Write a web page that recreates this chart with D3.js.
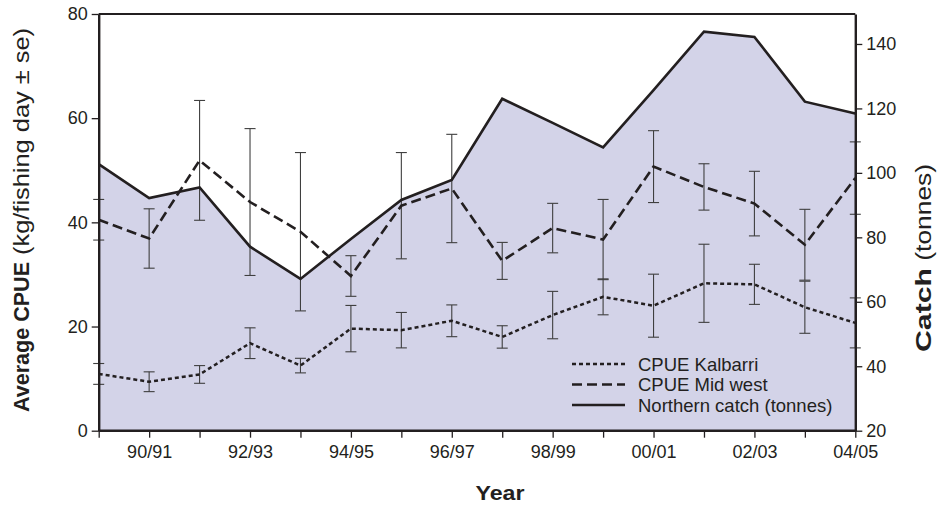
<!DOCTYPE html>
<html>
<head>
<meta charset="utf-8">
<script src="https://cdn.jsdelivr.net/npm/d3@7"></script>
<style>
  html, body { margin: 0; padding: 0; background: #fff; }
  svg { display: block; font-family: "Liberation Sans", Arial, Helvetica, sans-serif; }
</style>
</head>
<body>
<svg id="chart" width="938" height="506"></svg>
<script>
// Fishing seasons
const seasons = ["89/90","90/91","91/92","92/93","93/94","94/95","95/96","96/97",
                 "97/98","98/99","99/00","00/01","01/02","02/03","03/04","04/05"];
const seasonLabels = ["90/91","92/93","94/95","96/97","98/99","00/01","02/03","04/05"];

// Northern catch (tonnes), right axis
const northernCatch = [102.7, 92.2, 95.5, 77.1, 67.1, 79.5, 91.6, 97.8,
                       123.0, 115.5, 107.9, 125.7, 143.8, 142.2, 122.1, 118.4];

// CPUE Mid west (kg/fishing day) and standard error
const cpueMidWest   = [40.5, 36.9, 51.9, 43.9, 38.2, 29.7, 43.2, 46.5,
                       32.6, 38.9, 36.7, 50.7, 46.8, 43.6, 35.7, 48.5];
const seMidWest     = [3.9, 5.7, 11.5, 14.1, 15.2, 3.9, 10.2, 10.4,
                       3.55, 4.75, 7.7, 6.9, 4.45, 6.2, 6.8, 6.95];

// CPUE Kalbarri (kg/fishing day) and standard error
const cpueKalbarri  = [10.9, 9.4, 10.8, 16.8, 12.5, 19.6, 19.3, 21.1,
                       18.0, 22.2, 25.7, 24.0, 28.3, 28.1, 23.7, 20.7];
const seKalbarri    = [2.0, 1.9, 1.7, 2.95, 1.4, 4.45, 3.4, 3.05,
                       2.15, 4.55, 3.45, 6.05, 7.5, 3.85, 5.0, 4.8];

const leftTicks  = [0, 20, 40, 60, 80];
const rightTicks = [20, 40, 60, 80, 100, 120, 140];

const ink = "#231f20";
const fillColor = "#d3d3e8";

const svg = d3.select("#chart");
const plot = { left: 98.7, right: 855.3, top: 14, bottom: 430.7 };

const x = d3.scalePoint().domain(seasons).range([plot.left, plot.right]);
const yL = d3.scaleLinear().domain([0, 80]).range([plot.bottom, plot.top]);
const yR = d3.scaleLinear().domain([20, 149.3]).range([plot.bottom, plot.top]);

// Stretch a text element to a given run length
function fitLength(sel, len) {
  sel.attr("textLength", len).attr("lengthAdjust", "spacingAndGlyphs");
}

// Catch area (filled down to the base of the right axis)
const catchArea = d3.area()
  .x((d, i) => x(seasons[i]))
  .y0(yR(20))
  .y1(d => yR(d));
svg.append("path")
  .datum(northernCatch)
  .attr("d", catchArea)
  .attr("fill", fillColor);

// Error bars
function errorBars(values, se) {
  const g = svg.append("g")
    .attr("stroke", "#3f3f3f")
    .attr("stroke-width", 1.1)
    .attr("fill", "none");
  const capHalf = 5.5;
  values.forEach((v, i) => {
    const cx = x(seasons[i]);
    const hi = yL(v + se[i]), lo = yL(v - se[i]);
    g.append("line").attr("x1", cx).attr("x2", cx).attr("y1", hi).attr("y2", lo);
    g.append("line").attr("x1", cx - capHalf).attr("x2", cx + capHalf).attr("y1", hi).attr("y2", hi);
    g.append("line").attr("x1", cx - capHalf).attr("x2", cx + capHalf).attr("y1", lo).attr("y2", lo);
  });
}
errorBars(cpueMidWest, seMidWest);
errorBars(cpueKalbarri, seKalbarri);

// Series lines
const lineL = d3.line().x((d, i) => x(seasons[i])).y(d => yL(d));
const lineR = d3.line().x((d, i) => x(seasons[i])).y(d => yR(d));

svg.append("path").datum(northernCatch).attr("d", lineR)
  .attr("fill", "none").attr("stroke", ink).attr("stroke-width", 2.6)
  .attr("stroke-linejoin", "miter");
svg.append("path").datum(cpueMidWest).attr("d", lineL)
  .attr("fill", "none").attr("stroke", ink).attr("stroke-width", 2.6)
  .attr("stroke-dasharray", "10,5");
svg.append("path").datum(cpueKalbarri).attr("d", lineL)
  .attr("fill", "none").attr("stroke", ink).attr("stroke-width", 2.5)
  .attr("stroke-dasharray", "4,3");

// Frame: top border
svg.append("line")
  .attr("x1", plot.left).attr("x2", plot.right)
  .attr("y1", plot.top).attr("y2", plot.top)
  .attr("stroke", ink).attr("stroke-width", 2);

// Axes
function styleAxis(g) {
  g.selectAll(".domain").attr("stroke", ink).attr("stroke-width", 2.4);
  g.selectAll(".tick line").attr("stroke", ink).attr("stroke-width", 1.3);
  g.selectAll(".tick text").attr("fill", ink)
    .attr("font-size", 18).attr("font-family", "Liberation Sans, Arial, sans-serif");
}

const axL = svg.append("g")
  .attr("transform", `translate(${plot.left},0)`)
  .call(d3.axisLeft(yL).tickValues(leftTicks).tickSize(7).tickPadding(4).tickSizeOuter(0));
styleAxis(axL);

const axR = svg.append("g")
  .attr("transform", `translate(${plot.right},0)`)
  .call(d3.axisRight(yR).tickValues(rightTicks).tickSize(7).tickPadding(4).tickSizeOuter(0));
styleAxis(axR);

const axB = svg.append("g")
  .attr("transform", `translate(0,${plot.bottom})`)
  .call(d3.axisBottom(x).tickSize(7).tickPadding(8).tickSizeOuter(0)
    .tickFormat(d => seasonLabels.includes(d) ? d : ""));
styleAxis(axB);
axB.select(".domain").attr("d", `M${plot.left},0H${plot.right}`);

// Axis titles
svg.append("text")
  .attr("x", 500).attr("y", 500)
  .attr("text-anchor", "middle")
  .attr("font-size", 21).attr("font-weight", "bold").attr("fill", ink)
  .text("Year")
  .call(fitLength, 49);

const leftTitle = svg.append("text")
  .attr("transform", "translate(29,220) rotate(-90)")
  .attr("text-anchor", "middle")
  .attr("font-size", 22).attr("fill", ink);
leftTitle.append("tspan").attr("font-weight", "bold").text("Average CPUE")
  .call(fitLength, 150);
leftTitle.append("tspan").text(" (kg/fishing day \u00b1 se)")
  .call(fitLength, 234);

const rightTitle = svg.append("text")
  .attr("transform", "translate(931,258) rotate(-90)")
  .attr("text-anchor", "middle")
  .attr("font-size", 22).attr("fill", ink);
rightTitle.append("tspan").attr("font-weight", "bold").text("Catch")
  .call(fitLength, 84);
rightTitle.append("tspan").text(" (tonnes)")
  .call(fitLength, 104);

// Legend
const legendItems = [
  { label: "CPUE Kalbarri", dash: "4,3" },
  { label: "CPUE Mid west", dash: "10,5" },
  { label: "Northern catch (tonnes)", dash: null }
];
const legend = svg.append("g").attr("transform", "translate(572,364)");
legendItems.forEach((d, i) => {
  const row = legend.append("g").attr("transform", `translate(0,${i * 20.5})`);
  row.append("line").attr("x1", 0).attr("x2", 53).attr("y1", 0).attr("y2", 0)
    .attr("stroke", ink).attr("stroke-width", 2.6)
    .attr("stroke-dasharray", d.dash);
  row.append("text").attr("x", 66).attr("y", 6.5)
    .attr("font-size", 18.5).attr("fill", ink).text(d.label);
});
</script>
</body>
</html>
